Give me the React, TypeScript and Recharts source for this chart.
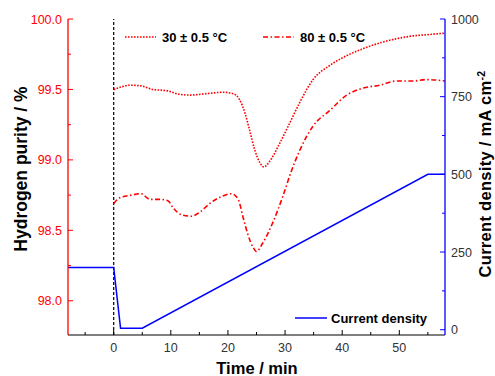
import { LineChart, Line, XAxis, YAxis, ReferenceLine } from 'recharts'

// 30 ± 0.5 °C series
const time30 = [0, 1.5, 2.8, 4.8, 6.8, 8.2, 9.5, 11, 13.3, 16.2, 19.1, 20.9, 22, 23, 23.8, 24.7, 25.6, 26.3, 27.3, 29.1, 30.8, 32.6, 34.9, 37.8, 40.8, 43.7, 46.6, 49.5, 52.4, 55.3, 58]
const purity30 = [99.5, 99.52, 99.53, 99.525, 99.5, 99.495, 99.49, 99.47, 99.46, 99.47, 99.48, 99.47, 99.43, 99.33, 99.21, 99.07, 98.98, 98.95, 98.99, 99.12, 99.26, 99.41, 99.57, 99.67, 99.74, 99.79, 99.83, 99.86, 99.88, 99.89, 99.9]

// 80 ± 0.5 °C series
const time80 = [0, 1, 3.1, 4.8, 6.3, 8, 9.5, 10.4, 11.9, 13.6, 15.1, 16.8, 18.9, 20.6, 21.8, 22.6, 23.5, 24.4, 25, 26.1, 27.8, 29.6, 31.1, 32.6, 34.9, 37.8, 40.8, 43.7, 46.6, 49.5, 52.4, 54.8, 58]
const purity80 = [98.69, 98.73, 98.75, 98.76, 98.72, 98.72, 98.71, 98.66, 98.61, 98.6, 98.63, 98.69, 98.74, 98.76, 98.72, 98.6, 98.47, 98.38, 98.35, 98.41, 98.55, 98.74, 98.92, 99.07, 99.24, 99.35, 99.46, 99.51, 99.53, 99.56, 99.56, 99.57, 99.56]

// current density profile
const timeCurrent = [-8, 0, 1.2, 5, 55, 58]
const currentDensity = [200, 200, 5, 5, 500, 500]

const timeTicks = [-5, 0, 5, 10, 15, 20, 25, 30, 35, 40, 45, 50, 55]
const purityTicks = [98, 98.25, 98.5, 98.75, 99, 99.25, 99.5, 99.75, 100]
const currentTicks = [0, 125, 250, 375, 500, 625, 750, 875, 1000]

const series30 = time30.map((t, i) => ({ time: t, purity: purity30[i] }))
const series80 = time80.map((t, i) => ({ time: t, purity: purity80[i] }))
const seriesCurrent = timeCurrent.map((t, i) => ({ time: t, current: currentDensity[i] }))

const FONT = 'Arial, "Liberation Sans", Helvetica, sans-serif'
const RED = '#ff0000'
const BLUE = '#0000ff'

function BottomTick({ x, y, payload }: any) {
  const v = payload.value
  const major = v % 10 === 0
  return (
    <g>
      <line x1={x} x2={x} y1={y} y2={y - (major ? 5 : 3)} stroke="#000" />
      {major && (
        <text x={x} y={y + 17} textAnchor="middle" fontSize={12.5} fill="#333" fontFamily={FONT}>
          {v}
        </text>
      )}
    </g>
  )
}

function TopTick({ x, y, payload }: any) {
  const major = payload.value % 10 === 0
  return <line x1={x} x2={x} y1={y} y2={y + (major ? 5 : 3)} stroke="#000" />
}

function LeftTick({ x, y, payload }: any) {
  const v = payload.value
  const major = Math.abs(v * 2 - Math.round(v * 2)) < 1e-6
  return (
    <g>
      <line x1={x} x2={x + (major ? 5 : 3)} y1={y} y2={y} stroke={RED} />
      {major && (
        <text x={x - 6} y={y + 4.5} textAnchor="end" fontSize={12.5} fill={RED} fontFamily={FONT}>
          {v.toFixed(1)}
        </text>
      )}
    </g>
  )
}

function RightTick({ x, y, payload }: any) {
  const v = payload.value
  const major = v % 250 === 0
  return (
    <g>
      <line x1={x} x2={x - (major ? 5 : 3)} y1={y} y2={y} stroke={BLUE} />
      {major && (
        <text x={x + 6} y={y + 4.5} textAnchor="start" fontSize={12.5} fill="#333" fontFamily={FONT}>
          {v}
        </text>
      )}
    </g>
  )
}

export default function App() {
  return (
    <div style={{ position: 'absolute', left: 0, top: 0, width: 495, height: 376, background: '#fff' }}>
      <LineChart width={495} height={376} margin={{ top: 19, right: 0, bottom: 0, left: 0 }}>
        <XAxis
          dataKey="time"
          type="number"
          domain={[-8, 58]}
          allowDataOverflow
          ticks={timeTicks}
          interval={0}
          height={41}
          tickSize={0}
          tickMargin={0}
          tickLine={false}
          stroke="#000"
          tick={<BottomTick />}
        />
        <XAxis
          xAxisId="top"
          orientation="top"
          dataKey="time"
          type="number"
          domain={[-8, 58]}
          allowDataOverflow
          ticks={timeTicks}
          interval={0}
          height={0}
          tickSize={0}
          tickMargin={0}
          tickLine={false}
          stroke="#000"
          tick={<TopTick />}
        />
        <YAxis
          yAxisId="purity"
          orientation="left"
          type="number"
          domain={[97.757, 100]}
          allowDataOverflow
          ticks={purityTicks}
          interval={0}
          width={68}
          tickSize={0}
          tickMargin={0}
          tickLine={false}
          stroke={RED}
          strokeWidth={1.3}
          tick={<LeftTick />}
        />
        <YAxis
          yAxisId="current"
          orientation="right"
          type="number"
          domain={[-17, 1000]}
          allowDataOverflow
          ticks={currentTicks}
          interval={0}
          width={50}
          tickSize={0}
          tickMargin={0}
          tickLine={false}
          stroke={BLUE}
          strokeWidth={1.3}
          tick={<RightTick />}
        />
        <ReferenceLine yAxisId="purity" x={0} stroke="#000" strokeWidth={1.2} strokeDasharray="3 2" />
        <Line
          yAxisId="purity"
          data={series30}
          dataKey="purity"
          name="30 ± 0.5 °C"
          type="monotone"
          stroke={RED}
          strokeWidth={1.6}
          strokeDasharray="1.6 1.4"
          dot={false}
          isAnimationActive={false}
        />
        <Line
          yAxisId="purity"
          data={series80}
          dataKey="purity"
          name="80 ± 0.5 °C"
          type="monotone"
          stroke={RED}
          strokeWidth={1.6}
          strokeDasharray="5 2.5 1.5 2.5"
          dot={false}
          isAnimationActive={false}
        />
        <Line
          yAxisId="current"
          data={seriesCurrent}
          dataKey="current"
          name="Current density"
          type="linear"
          stroke={BLUE}
          strokeWidth={1.5}
          dot={false}
          isAnimationActive={false}
        />
      </LineChart>

      {/* titles and legend */}
      <svg
        width={495}
        height={376}
        style={{ position: 'absolute', left: 0, top: 0, pointerEvents: 'none' }}
        fontFamily={FONT}
        fontWeight="bold"
      >
        <text transform="translate(27,169) rotate(-90)" textAnchor="middle" fontSize={17.5} fill="#000">
          Hydrogen purity / %
        </text>
        <text transform="translate(491,174) rotate(-90)" textAnchor="middle" fontSize={16.5} fill="#000" letterSpacing={0.3}>
          Current density / mA cm<tspan dy={-6} fontSize={10.5}>-2</tspan>
        </text>
        <text x={257} y={374} textAnchor="middle" fontSize={16.5} fill="#000">
          Time / min
        </text>

        <line x1={125} x2={156} y1={37} y2={37} stroke={RED} strokeWidth={1.6} strokeDasharray="1.6 1.4" />
        <text x={162} y={41.5} fontSize={13} fill="#000">30 ± 0.5 °C</text>
        <line x1={263} x2={294} y1={37} y2={37} stroke={RED} strokeWidth={1.6} strokeDasharray="5 2.5 1.5 2.5" />
        <text x={300} y={41.5} fontSize={13} fill="#000">80 ± 0.5 °C</text>
        <line x1={295} x2={327} y1={318} y2={318} stroke={BLUE} strokeWidth={1.5} />
        <text x={331} y={322.5} fontSize={13} fill="#000">Current density</text>
      </svg>
    </div>
  )
}
